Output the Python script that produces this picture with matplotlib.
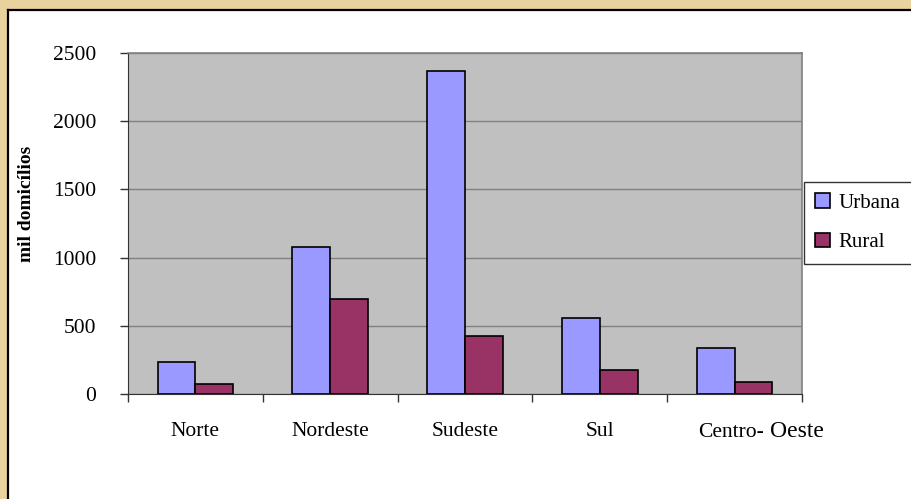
import matplotlib
matplotlib.use("Agg")
import matplotlib.pyplot as plt
from matplotlib.patches import Rectangle, Patch
from matplotlib.lines import Line2D
import numpy as np

plt.rcParams["font.family"] = ["Liberation Serif", "DejaVu Serif"]

categories = ["Norte", "Nordeste", "Sudeste", "Sul", "Centro- Oeste"]
urbana = [235, 1080, 2370, 555, 335]
rural = [72, 695, 425, 175, 85]
yticks = [0, 500, 1000, 1500, 2000, 2500]
series_labels = ["Urbana", "Rural"]

FAM = ["Liberation Serif", "DejaVu Serif"]
W, H = 912, 499
fig = plt.figure(figsize=(W / 100, H / 100), dpi=100)
fig.patch.set_facecolor("#EAD29E")

# white panel with black border at left/top
fig.patches.append(Rectangle((8 / W, 0), 1, 1 - 11 / H, transform=fig.transFigure,
                             facecolor="white", edgecolor="none", zorder=-10))
fig.lines.append(Line2D([8 / W, 8 / W], [0, 1 - 10 / H], transform=fig.transFigure,
                        color="black", lw=1.6, zorder=-9))
fig.lines.append(Line2D([8 / W, 1], [1 - 10 / H, 1 - 10 / H], transform=fig.transFigure,
                        color="black", lw=1.6, zorder=-9))

ax = fig.add_axes([128 / W, 1 - 394 / H, (802 - 128) / W, (394 - 53) / H])
ax.set_zorder(1)
ax.set_facecolor("#C0C0C0")

x = np.arange(len(categories))
bw = 0.28
ax.bar(x - bw / 2, urbana, bw, color="#9999FF", edgecolor="black", lw=1.2, zorder=3, label=series_labels[0])
ax.bar(x + bw / 2, rural, bw, color="#993366", edgecolor="black", lw=1.2, zorder=3, label=series_labels[1])

ax.set_xlim(-0.5, len(categories) - 0.5)
ax.set_ylim(0, 2500)
ax.set_yticks(yticks)
ax.set_yticklabels([str(v) for v in yticks], fontsize=15.5, family=FAM)
ax.yaxis.grid(True, color="#808080", lw=1, zorder=1)
ax.set_axisbelow(True)

ax.set_xticks(np.arange(-0.5, len(categories) + 0.5, 1))
ax.set_xticklabels([])
ax.tick_params(axis="x", length=6, width=1, color="#333333", direction="out")
ax.tick_params(axis="y", length=6, width=1, color="#333333", direction="out", pad=17)

for s in ["top", "right"]:
    ax.spines[s].set_color("#808080")
    ax.spines[s].set_linewidth(1.2)
ax.spines["left"].set_color("#333333")
ax.spines["bottom"].set_color("#333333")

# category labels
for i, c in enumerate(categories[:-1]):
    ax.annotate(c, xy=(i, 0), xycoords=("data", "axes fraction"), xytext=(0, -42 * 0.72),
                textcoords="offset points", ha="center", va="baseline", fontsize=15.5, family=FAM)
ci = len(categories) - 1
ax.annotate("Centro-", xy=(ci, 0), xycoords=("data", "axes fraction"), xytext=(29 * 0.72, -43 * 0.72),
            textcoords="offset points", ha="right", va="baseline", fontsize=15.5, family=FAM)
ax.annotate("Oeste", xy=(ci, 0), xycoords=("data", "axes fraction"), xytext=(35 * 0.72, -43 * 0.72),
            textcoords="offset points", ha="left", va="baseline", fontsize=17, family=FAM)

fig.text(27 / W, 1 - 204 / H, "mil domicílios", rotation=90, ha="center", va="center",
         fontsize=14, fontweight="bold", family=FAM)

handles = [Patch(facecolor="#9999FF", edgecolor="black", lw=1.2),
           Patch(facecolor="#993366", edgecolor="black", lw=1.2)]
leg = fig.legend(handles, series_labels, loc="upper left",
                 bbox_to_anchor=(804 / W, 1 - 182 / H), bbox_transform=fig.transFigure,
                 prop={"family": FAM, "size": 15}, frameon=True, fancybox=False, edgecolor="black",
                 handlelength=0.7, handleheight=0.7, handletextpad=0.4,
                 labelspacing=0.95, borderpad=0.55, borderaxespad=0)
leg.get_frame().set_linewidth(1.0)
leg.set_zorder(5)

fig.savefig("out.png", dpi=100, facecolor=fig.get_facecolor())
